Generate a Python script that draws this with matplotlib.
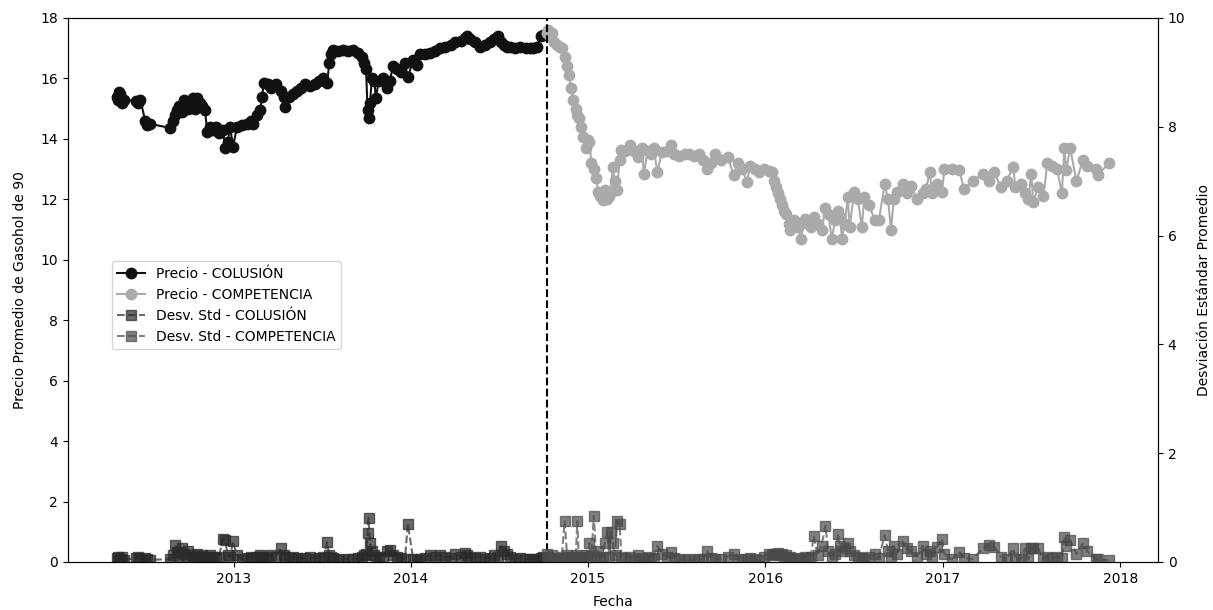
import matplotlib
matplotlib.use("Agg")
import matplotlib.pyplot as plt
import matplotlib.dates as mdates
import pandas as pd

# ---------------- data ----------------
col_dates = ["2012-05-07","2012-05-09","2012-05-11","2012-05-13","2012-05-16","2012-05-20",
    "2012-06-15","2012-06-19","2012-06-23","2012-07-03","2012-07-07","2012-07-12",
    "2012-08-24","2012-08-30","2012-09-03","2012-09-07","2012-09-11","2012-09-16","2012-09-20",
    "2012-09-25","2012-09-30","2012-10-05","2012-10-10","2012-10-14","2012-10-18","2012-10-23",
    "2012-10-28","2012-11-03","2012-11-08","2012-11-13","2012-11-20","2012-11-26","2012-12-02",
    "2012-12-10","2012-12-15","2012-12-20","2012-12-25","2012-12-31","2013-01-08","2013-01-18",
    "2013-01-28","2013-02-05","2013-02-11","2013-02-18","2013-02-25","2013-03-01","2013-03-04",
    "2013-03-12","2013-03-20","2013-03-30","2013-04-08","2013-04-14","2013-04-18","2013-04-25",
    "2013-05-03","2013-05-12","2013-05-19","2013-05-28","2013-06-08","2013-06-18","2013-06-26",
    "2013-07-05","2013-07-13","2013-07-17","2013-07-21","2013-07-25","2013-08-05","2013-08-15",
    "2013-08-25","2013-09-04","2013-09-14","2013-09-22","2013-09-27","2013-10-01","2013-10-04",
    "2013-10-06","2013-10-09","2013-10-13","2013-10-18","2013-10-21","2013-10-27","2013-11-04",
    "2013-11-13","2013-11-19","2013-11-25","2013-12-03","2013-12-12","2013-12-20","2013-12-26",
    "2014-01-06","2014-01-14","2014-01-20","2014-01-30","2014-02-09","2014-02-20","2014-03-02",
    "2014-03-12","2014-03-24","2014-04-03","2014-04-14","2014-04-22","2014-04-27","2014-05-04",
    "2014-05-14","2014-05-24","2014-06-03","2014-06-13","2014-06-22","2014-06-30","2014-07-06",
    "2014-07-12","2014-07-18","2014-07-24","2014-08-04","2014-08-15","2014-08-26","2014-09-04",
    "2014-09-10","2014-09-18","2014-09-26","2014-09-30"]
col_price = [15.4,15.3,15.55,15.5,15.2,15.3,
    15.25,15.2,15.3,14.6,14.46,14.5,
    14.36,14.6,14.8,14.96,15.1,14.9,15.3,
    15.2,15.0,15.2,15.35,15.0,15.35,15.2,
    15.1,14.96,14.23,14.4,14.3,14.4,14.2,
    14.3,13.7,13.9,14.4,13.73,14.4,14.45,
    14.5,14.6,14.5,14.8,14.96,15.4,15.85,
    15.8,15.7,15.8,15.6,15.4,15.06,15.4,
    15.5,15.6,15.7,15.8,15.75,15.8,15.9,
    16.0,15.85,16.5,16.8,16.94,16.9,16.95,
    16.9,16.94,16.85,16.7,16.5,16.3,14.96,
    14.7,15.2,16.0,15.9,15.35,15.9,16.0,
    15.7,15.9,16.4,16.3,16.2,16.5,16.05,
    16.6,16.45,16.8,16.8,16.85,16.9,17.0,
    17.05,17.1,17.2,17.25,17.35,17.4,17.3,
    17.2,17.05,17.1,17.2,17.3,17.4,17.2,
    17.1,17.05,17.05,17.0,17.05,17.0,17.0,
    17.0,17.05,17.4,17.45]
col_std = [0.08,0.10,0.06,0.05,0.09,0.04,
    0.07,0.10,0.05,0.08,0.06,0.04,
    0.05,0.12,0.32,0.18,0.10,0.26,0.15,
    0.08,0.20,0.12,0.10,0.08,0.14,0.10,
    0.12,0.10,0.10,0.12,0.10,0.08,0.10,
    0.42,0.40,0.12,0.10,0.38,0.12,0.06,
    0.08,0.10,0.08,0.10,0.12,0.10,0.08,
    0.10,0.12,0.10,0.26,0.12,0.10,0.08,
    0.10,0.08,0.06,0.08,0.10,0.06,0.08,
    0.10,0.36,0.12,0.10,0.08,0.05,0.04,
    0.06,0.05,0.08,0.10,0.12,0.15,0.53,
    0.81,0.35,0.20,0.12,0.10,0.08,0.10,
    0.21,0.22,0.12,0.10,0.08,0.06,0.70,
    0.05,0.04,0.06,0.08,0.12,0.10,0.13,
    0.10,0.08,0.15,0.10,0.17,0.12,0.10,
    0.08,0.10,0.06,0.08,0.12,0.10,0.29,
    0.20,0.14,0.10,0.06,0.08,0.05,0.06,
    0.04,0.05,0.08,0.10]

comp_dates = ["2014-10-08","2014-10-11","2014-10-15","2014-10-19","2014-10-24","2014-10-30",
    "2014-11-04","2014-11-08","2014-11-14","2014-11-19","2014-11-23","2014-11-27","2014-12-02",
    "2014-12-07","2014-12-10","2014-12-13","2014-12-17","2014-12-21","2014-12-27","2015-01-01",
    "2015-01-04","2015-01-08","2015-01-13","2015-01-18","2015-01-22","2015-01-26","2015-01-31",
    "2015-02-05","2015-02-10","2015-02-14","2015-02-17","2015-02-21","2015-02-25","2015-03-02",
    "2015-03-07","2015-03-11","2015-03-18","2015-03-28","2015-04-05","2015-04-14","2015-04-22",
    "2015-04-26","2015-05-04","2015-05-10","2015-05-16","2015-05-24","2015-06-02","2015-06-12",
    "2015-06-20","2015-06-28","2015-07-08","2015-07-19","2015-07-28","2015-08-08","2015-08-17",
    "2015-08-26","2015-09-03","2015-09-12","2015-09-20","2015-10-02","2015-10-16","2015-10-28",
    "2015-11-05","2015-11-15","2015-11-25","2015-11-30","2015-12-10","2015-12-20","2015-12-29",
    "2016-01-08","2016-01-15","2016-01-19","2016-01-24","2016-01-28","2016-02-01","2016-02-05",
    "2016-02-09","2016-02-13","2016-02-18","2016-02-22","2016-03-01","2016-03-08","2016-03-14",
    "2016-03-23","2016-03-29","2016-04-04","2016-04-10","2016-04-18","2016-04-26","2016-05-04",
    "2016-05-10","2016-05-17","2016-05-24","2016-05-30","2016-06-03","2016-06-07","2016-06-13",
    "2016-06-19","2016-06-23","2016-07-02","2016-07-10","2016-07-18","2016-07-23","2016-08-02",
    "2016-08-14","2016-08-22","2016-09-03","2016-09-10","2016-09-16","2016-09-22","2016-09-28",
    "2016-10-10","2016-10-18","2016-10-27","2016-11-09","2016-11-20","2016-11-27","2016-12-05",
    "2016-12-09","2016-12-20","2016-12-30","2017-01-04","2017-01-19","2017-02-04","2017-02-13",
    "2017-03-03","2017-03-24","2017-04-05","2017-04-17","2017-04-30","2017-05-12","2017-05-26",
    "2017-05-30","2017-06-10","2017-06-19","2017-06-26","2017-07-02","2017-07-06","2017-07-16",
    "2017-07-27","2017-08-04","2017-08-14","2017-08-24","2017-09-03","2017-09-08","2017-09-12",
    "2017-09-20","2017-10-03","2017-10-16","2017-10-25","2017-11-13","2017-11-17","2017-12-08"]
comp_price = [17.5,17.6,17.4,17.5,17.2,17.1,
    17.05,17.0,16.7,16.4,16.1,15.7,15.3,
    15.0,14.8,14.7,14.4,14.07,13.7,13.95,
    13.9,13.2,13.0,12.7,12.25,12.1,11.97,
    12.3,12.0,12.1,12.25,13.07,12.6,12.3,
    13.3,13.62,13.6,13.8,13.6,13.4,13.7,
    12.85,13.6,13.5,13.7,12.9,13.57,13.6,
    13.8,13.5,13.45,13.5,13.5,13.45,13.5,
    13.3,13.0,13.2,13.5,13.3,13.4,12.8,
    13.2,13.0,12.57,13.1,13.0,12.9,13.0,
    12.95,12.9,12.6,12.4,12.2,12.0,11.8,
    11.6,11.5,11.2,11.0,11.3,11.1,10.7,
    11.35,11.2,11.1,11.4,11.2,10.97,11.7,
    11.5,10.7,11.3,11.6,11.4,10.7,11.2,
    12.07,11.07,12.24,12.0,11.07,12.07,11.8,
    11.3,11.3,12.5,12.0,11.0,12.0,12.24,
    12.5,12.2,12.45,12.0,12.2,12.35,12.9,
    12.2,12.5,12.24,13.0,13.0,12.96,12.35,
    12.6,12.85,12.6,12.9,12.4,12.6,13.07,
    12.4,12.5,12.2,12.0,12.85,11.9,12.4,
    12.1,13.2,13.1,13.0,12.2,13.7,12.96,
    13.7,12.6,13.3,13.1,13.0,12.8,13.2]
comp_std = [0.15,0.10,0.08,0.12,0.06,0.05,
    0.08,0.10,0.75,0.12,0.10,0.08,0.10,
    0.12,0.75,0.10,0.08,0.10,0.12,0.10,
    0.35,0.12,0.85,0.10,0.20,0.08,0.10,
    0.35,0.55,0.10,0.55,0.35,0.12,0.75,
    0.70,0.10,0.08,0.10,0.06,0.12,0.08,
    0.05,0.10,0.06,0.08,0.30,0.15,0.10,
    0.18,0.08,0.05,0.04,0.05,0.04,0.06,
    0.05,0.20,0.08,0.06,0.05,0.10,0.15,
    0.05,0.04,0.06,0.08,0.05,0.04,0.10,
    0.15,0.12,0.15,0.14,0.16,0.12,0.15,
    0.10,0.12,0.08,0.10,0.06,0.08,0.05,
    0.10,0.08,0.10,0.48,0.12,0.30,0.67,
    0.20,0.10,0.15,0.52,0.30,0.20,0.25,
    0.35,0.20,0.12,0.10,0.08,0.06,0.10,
    0.15,0.08,0.49,0.20,0.10,0.30,0.15,
    0.38,0.25,0.20,0.10,0.30,0.15,0.20,
    0.10,0.28,0.43,0.15,0.05,0.18,0.08,
    0.05,0.25,0.31,0.28,0.10,0.05,0.25,
    0.06,0.05,0.25,0.05,0.25,0.25,0.25,
    0.06,0.10,0.08,0.10,0.08,0.46,0.30,
    0.40,0.15,0.34,0.20,0.05,0.05,0.03]

break_date = "2014-10-08"

# ---------------- plot ----------------
col_d = pd.to_datetime(col_dates)
comp_d = pd.to_datetime(comp_dates)

fig = plt.figure(figsize=(12.13, 6.10), dpi=100)
ax1 = fig.add_axes([0.056, 0.0787, 0.8987, 0.8918])
ax2 = ax1.twinx()

l1, = ax1.plot(col_d, col_price, color="#111111", marker="o", markersize=7.5,
               linewidth=1.5, label="Precio - COLUSIÓN")
l2, = ax1.plot(comp_d, comp_price, color="#aaaaaa", marker="o", markersize=7.5,
               linewidth=1.5, label="Precio - COMPETENCIA")
ax1.axvline(pd.Timestamp(break_date), color="black", linestyle="--", linewidth=1.5)

l3, = ax2.plot(col_d, col_std, color="#2a2a2a", marker="s", markersize=7,
               linestyle="--", linewidth=1.5, alpha=0.7, label="Desv. Std - COLUSIÓN")
l4, = ax2.plot(comp_d, comp_std, color="#4a4a4a", marker="s", markersize=7,
               linestyle="--", linewidth=1.5, alpha=0.7, label="Desv. Std - COMPETENCIA")

ax1.set_ylim(0, 18)
ax1.set_yticks(range(0, 19, 2))
ax2.set_ylim(0, 10)
ax2.set_yticks(range(0, 11, 2))

ax1.xaxis.set_major_locator(mdates.YearLocator())
ax1.xaxis.set_major_formatter(mdates.DateFormatter("%Y"))

ax1.set_xlabel("Fecha", labelpad=7)
ax1.set_ylabel("Precio Promedio de Gasohol de 90", labelpad=10)
ax2.set_ylabel("Desviación Estándar Promedio", labelpad=8)

ax2.legend(handles=[l1, l2, l3, l4], loc="upper left",
           bbox_to_anchor=(0.040, 0.553), borderaxespad=0)

fig.savefig("out.png", dpi=100)
